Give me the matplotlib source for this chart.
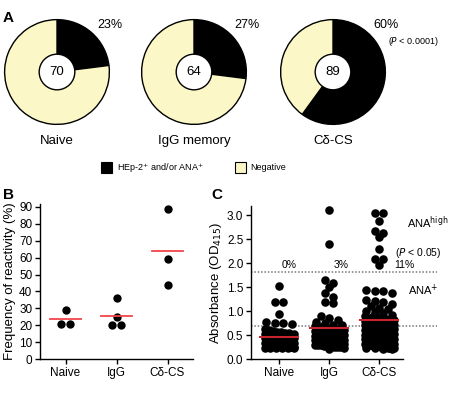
import matplotlib
matplotlib.use("Agg")
import matplotlib.pyplot as plt
import matplotlib.transforms as mtransforms
import numpy as np

plt.rcParams["font.family"] = ["Liberation Sans", "DejaVu Sans"]

# ---------------------------------------------------------------------------
# Data
# ---------------------------------------------------------------------------
PIE_GROUPS = ["Naive", "IgG memory", "C\u03b4-CS"]
PIE_POSITIVE_PCT = [23, 27, 60]
PIE_N = [70, 64, 89]

GROUPS = ["Naive", "IgG", "C\u03b4-CS"]

# Panel B: frequency of reactivity per donor (%)
FREQ_NAIVE = [29, 21, 21]
FREQ_IGG = [36, 25, 20, 20]
FREQ_CDCS = [89, 59, 44]

# Panel C: ELISA absorbance (OD415) per clone
OD_NAIVE = [
    1.53, 1.19, 1.18, 0.93, 0.78, 0.76, 0.75, 0.74,
    0.62, 0.60, 0.58, 0.57, 0.55, 0.54, 0.53, 0.52, 0.51, 0.50,
    0.49, 0.48, 0.47, 0.46, 0.45, 0.45, 0.44, 0.43, 0.42, 0.42,
    0.41, 0.40, 0.40, 0.39, 0.38, 0.38, 0.37, 0.36, 0.36, 0.35,
    0.35, 0.34, 0.34, 0.33, 0.33, 0.32, 0.32, 0.31, 0.31, 0.30,
    0.30, 0.29, 0.29, 0.28, 0.28, 0.28, 0.27, 0.27, 0.26, 0.26,
    0.25, 0.25, 0.24, 0.24, 0.23, 0.23, 0.22, 0.22, 0.50, 0.44,
    0.56, 0.48,
]
OD_IGG = [
    3.12, 2.40,
    1.65, 1.58, 1.51, 1.37, 1.29, 1.19, 1.17, 0.90, 0.85, 0.82,
    0.78, 0.75, 0.72, 0.70, 0.68, 0.66, 0.65, 0.63, 0.62, 0.60,
    0.59, 0.57, 0.56, 0.55, 0.54, 0.52, 0.51, 0.50, 0.49, 0.48,
    0.47, 0.46, 0.45, 0.44, 0.43, 0.42, 0.41, 0.40, 0.40, 0.39,
    0.38, 0.37, 0.36, 0.35, 0.35, 0.34, 0.33, 0.32, 0.31, 0.30,
    0.30, 0.29, 0.28, 0.27, 0.27, 0.26, 0.25, 0.25, 0.24, 0.21,
    0.58, 0.44,
]
OD_CDCS = [
    3.04, 3.05, 2.88, 2.67, 2.62, 2.55, 2.29, 2.09, 2.08, 1.96,
    1.42, 1.41, 1.45, 1.37, 1.23, 1.22, 1.20, 1.15, 1.06, 1.05,
    1.10, 1.00, 0.98, 0.95,
    0.92, 0.90, 0.88, 0.86, 0.84, 0.82, 0.80, 0.78, 0.76, 0.74,
    0.72, 0.70, 0.68, 0.66, 0.64, 0.62, 0.60, 0.58, 0.56, 0.54,
    0.52, 0.50, 0.48, 0.47, 0.46, 0.45, 0.44, 0.43, 0.42, 0.41,
    0.40, 0.39, 0.38, 0.37, 0.36, 0.35, 0.34, 0.33, 0.32, 0.31,
    0.30, 0.30, 0.29, 0.29, 0.28, 0.28, 0.27, 0.27, 0.26, 0.26,
    0.25, 0.25, 0.24, 0.24, 0.23, 0.23, 0.22, 0.22, 0.21, 0.21,
    0.55, 0.45, 0.35, 0.65, 0.75,
]

ANA_HIGH_CUTOFF = 1.82
ANA_POS_CUTOFF = 0.69
HIGH_PCT_LABELS = ["0%", "3%", "11%"]

BEIGE = "#fbf7c6"
RED_B = "#f2454a"
RED_C = "#c8242c"

W, H = 453, 400


def fx(px):
    return px / W


def fy(py):
    return 1 - py / H


def swarm_offsets(values, row_h, dx, max_half):
    """Prism-like column scatter: group close values into rows and spread them."""
    vals = np.asarray(values, dtype=float)
    order = np.argsort(-vals)
    offsets = np.zeros(len(vals))

    def flush(row):
        n = len(row)
        if n == 0:
            return
        step = dx if n == 1 else min(dx, 2 * max_half / (n - 1))
        offs = (np.arange(n) - (n - 1) / 2) * step
        for idx, o in zip(row, offs):
            offsets[idx] = o

    row = []
    start = None
    for idx in order:
        if start is None or start - vals[idx] < row_h:
            if start is None:
                start = vals[idx]
            row.append(idx)
        else:
            flush(row)
            row = [idx]
            start = vals[idx]
    flush(row)
    return offsets


fig = plt.figure(figsize=(W / 100, H / 100), dpi=100)

# ---------------------------------------------------------------------------
# Panel A: donut charts
# ---------------------------------------------------------------------------
pie_centers = [57, 194, 333]
pie_r = 54
for cx, name, pct, n in zip(pie_centers, PIE_GROUPS, PIE_POSITIVE_PCT, PIE_N):
    ax = fig.add_axes([fx(cx - pie_r), fy(72 + pie_r),
                       2 * pie_r / W, 2 * pie_r / H])
    ax.pie([pct, 100 - pct], colors=["black", BEIGE], startangle=90,
           counterclock=False, radius=0.97,
           wedgeprops=dict(edgecolor="black", linewidth=1.0))
    ax.add_patch(plt.Circle((0, 0), 0.33, facecolor="white",
                            edgecolor="black", linewidth=1.0, zorder=5))
    ax.text(0, 0, str(n), ha="center", va="center", fontsize=9.5, zorder=6)
    ax.set_xlim(-1, 1)
    ax.set_ylim(-1, 1)
    ax.set_aspect("equal")
    ax.axis("off")
    fig.text(fx(cx), fy(141), name, ha="center", va="center", fontsize=9.5)
    fig.text(fx(cx + 53), fy(25), f"{pct}%", ha="center", va="center", fontsize=9)

fig.text(fx(388), fy(42), "($P$ < 0.0001)", ha="left", va="center", fontsize=6.5)

fig.text(fx(3), fy(18), "A", fontsize=11, fontweight="bold", va="center")
fig.text(fx(3), fy(195), "B", fontsize=11, fontweight="bold", va="center")
fig.text(fx(211), fy(195), "C", fontsize=11, fontweight="bold", va="center")

# legend
fig.patches.append(plt.Rectangle((fx(101), fy(173)), 11 / W, 11 / H,
                                 transform=fig.transFigure, facecolor="black",
                                 edgecolor="black", linewidth=0.8))
fig.text(fx(117), fy(168), "HEp-2$^{+}$ and/or ANA$^{+}$", va="center",
         fontsize=6.5)
fig.patches.append(plt.Rectangle((fx(235), fy(173)), 11 / W, 11 / H,
                                 transform=fig.transFigure, facecolor=BEIGE,
                                 edgecolor="black", linewidth=0.8))
fig.text(fx(250), fy(168), "Negative", va="center", fontsize=6.5)

# ---------------------------------------------------------------------------
# Panel B: frequency of reactivity
# ---------------------------------------------------------------------------
axb = fig.add_axes([fx(40), fy(359), 153 / W, 155.4 / H])
for i, vals in enumerate([FREQ_NAIVE, FREQ_IGG, FREQ_CDCS]):
    offs = swarm_offsets(vals, row_h=4.0, dx=0.18, max_half=0.3)
    axb.scatter(i + offs, vals, s=36, color="black", zorder=3, linewidths=0)
    m = np.mean(vals)
    axb.plot([i - 0.3, i + 0.3], [m, m], color=RED_B, lw=1.3, zorder=4)
axb.set_xlim(-0.5, 2.5)
axb.set_ylim(0, 92)
axb.set_yticks(range(0, 91, 10))
axb.set_xticks(range(3))
axb.set_xticklabels(GROUPS)
axb.set_ylabel("Frequency of reactivity (%)", fontsize=9.5, labelpad=2)
axb.tick_params(labelsize=8.5, length=3.5, width=1, pad=2)
for s in ["top", "right"]:
    axb.spines[s].set_visible(False)
for s in ["left", "bottom"]:
    axb.spines[s].set_linewidth(1)

# ---------------------------------------------------------------------------
# Panel C: absorbance
# ---------------------------------------------------------------------------
axc = fig.add_axes([fx(251), fy(359), 152 / W, 153.3 / H])
for i, vals in enumerate([OD_NAIVE, OD_IGG, OD_CDCS]):
    offs = swarm_offsets(vals, row_h=0.09, dx=0.17, max_half=0.29)
    axc.scatter(i + offs, vals, s=38, color="black", zorder=3, linewidths=0)
    m = np.mean(vals)
    axc.plot([i - 0.38, i + 0.38], [m, m], color=RED_C, lw=1.5, zorder=4)
axc.set_xlim(-0.56, 2.48)
axc.set_ylim(0, 3.2)
yt = np.arange(0, 3.01, 0.5)
axc.set_yticks(yt)
axc.set_yticklabels([f"{v:.1f}" for v in yt])
axc.set_xticks(range(3))
axc.set_xticklabels(GROUPS)
axc.set_ylabel("Absorbance (OD$_{415}$)", fontsize=9.5, labelpad=2)
axc.tick_params(labelsize=8.5, length=3.5, width=1, pad=2)
for s in ["top", "right"]:
    axc.spines[s].set_visible(False)
for s in ["left", "bottom"]:
    axc.spines[s].set_linewidth(1)

trans = mtransforms.blended_transform_factory(axc.transAxes, axc.transData)
for cut in [ANA_HIGH_CUTOFF, ANA_POS_CUTOFF]:
    axc.plot([0, 1.224], [cut, cut], transform=trans, color="#777777",
             lw=1.1, ls=(0, (1, 1.2)), clip_on=False, zorder=2)

for x_px, lab in zip([289, 341, 404], HIGH_PCT_LABELS):
    fig.text(fx(x_px), fy(265), lab, ha="center", va="center", fontsize=7.5)
fig.text(fx(395), fy(253), "($P$ < 0.05)", ha="left", va="center", fontsize=7.5)
fig.text(fx(407), fy(223), "ANA$^{\\rm high}$", ha="left", va="center", fontsize=8)
fig.text(fx(408), fy(290), "ANA$^{+}$", ha="left", va="center", fontsize=8)

fig.savefig("out.png", dpi=100)
